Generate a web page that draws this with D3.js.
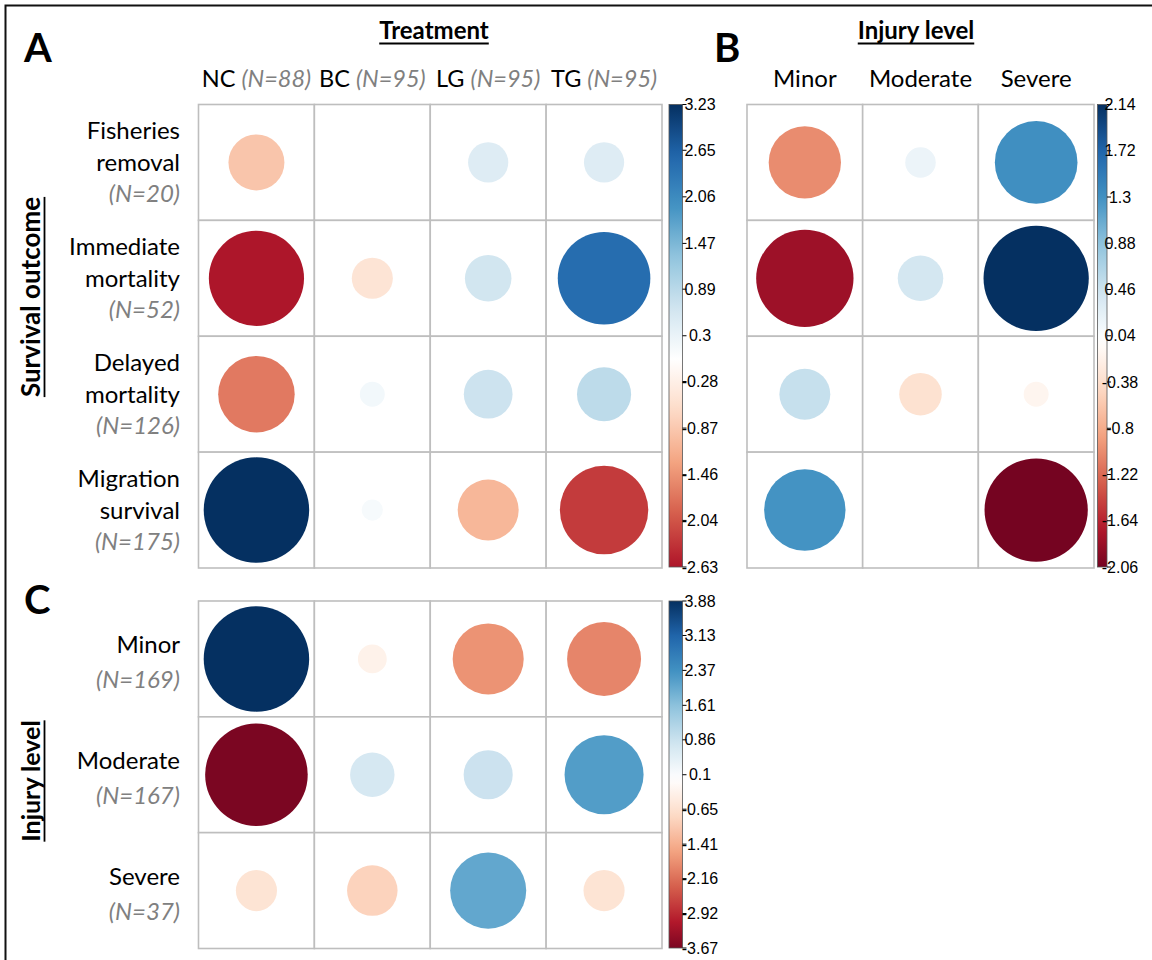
<!DOCTYPE html>
<html>
<head>
<meta charset="utf-8">
<script src="https://cdn.jsdelivr.net/npm/d3@7"></script>
<style>
  html, body { margin: 0; padding: 0; background: #fff; }
  svg { display: block; }
</style>
</head>
<body>
<svg id="fig" width="1152" height="960"></svg>
<script>
// ---- data: Pearson residuals of the contingency tables ----
const treatments = ["NC", "BC", "LG", "TG"];
const treatmentN = ["(N=88)", "(N=95)", "(N=95)", "(N=95)"];

const outcomes = ["Fisheries removal", "Immediate mortality", "Delayed mortality", "Migration survival"];
const outcomeLines = [["Fisheries", "removal"], ["Immediate", "mortality"], ["Delayed", "mortality"], ["Migration", "survival"]];
const outcomeN = ["(N=20)", "(N=52)", "(N=126)", "(N=175)"];

const injuryLevels = ["Minor", "Moderate", "Severe"];
const injuryN = ["(N=169)", "(N=167)", "(N=37)"];

// A: survival outcome x treatment
const residOutcomeTreatment = [
  [-0.91, 0.002, 0.47, 0.47],
  [-2.63, -0.49, 0.63, 2.49],
  [-1.70, 0.18, 0.69, 0.85],
  [3.23, 0.13, -1.08, -2.27]
];
// B: survival outcome x injury level
const residOutcomeInjury = [
  [-1.01, 0.18, 1.32],
  [-1.83, 0.40, 2.14],
  [0.50, -0.35, -0.12],
  [1.28, 0.002, -2.06]
];
// C: injury level x treatment
const residInjuryTreatment = [
  [3.88, -0.29, -1.76, -1.91],
  [-3.67, 0.69, 0.84, 2.18],
  [-0.59, -0.89, 2.02, -0.59]
];

// colour-key tick labels (top to bottom)
const keyTicksA = ["3.23", "2.65", "2.06", "1.47", "0.89", "0.3", "-0.28", "-0.87", "-1.46", "-2.04", "-2.63"];
const keyTicksB = ["2.14", "1.72", "1.3", "0.88", "0.46", "0.04", "-0.38", "-0.8", "-1.22", "-1.64", "-2.06"];
const keyTicksC = ["3.88", "3.13", "2.37", "1.61", "0.86", "0.1", "-0.65", "-1.41", "-2.16", "-2.92", "-3.67"];

// ---- palette (RdBu diverging, -1 .. 1) ----
const rdbu = ["#67001F", "#B2182B", "#D6604D", "#F4A582", "#FDDBC7", "#FFFFFF",
              "#D1E5F0", "#92C5DE", "#4393C3", "#2166AC", "#053061"];
const palette = d3.scaleLinear()
  .domain(d3.range(11).map(i => -1 + i * 0.2))
  .range(rdbu)
  .interpolate(d3.interpolateRgb)
  .clamp(true);

const svg = d3.select("#fig");
const FONT = "Lato, 'Open Sans', sans-serif";
const KEYFONT = "'Liberation Sans', Arial, sans-serif";
const GRID = "#BEBEBE";
const LABEL_SIZE = 24;

// outer frame
svg.append("rect")
  .attr("x", 5.5).attr("y", 5.5)
  .attr("width", 1160).attr("height", 970)
  .attr("fill", "none").attr("stroke", "#111").attr("stroke-width", 2);

function drawMatrix(values, rowKeys, colKeys, xRange, yRange) {
  const x = d3.scaleBand().domain(colKeys).range(xRange);
  const y = d3.scaleBand().domain(rowKeys).range(yRange);
  const maxAbs = d3.max(values.flat(), v => Math.abs(v));
  const r = d3.scaleSqrt().domain([0, maxAbs]).range([0, 0.455 * x.bandwidth()]);
  const g = svg.append("g");
  const cells = [];
  values.forEach((row, i) => row.forEach((v, j) => cells.push({ r: rowKeys[i], c: colKeys[j], v })));
  g.selectAll("rect.cell").data(cells).join("rect")
    .attr("class", "cell")
    .attr("x", d => x(d.c)).attr("y", d => y(d.r))
    .attr("width", x.bandwidth()).attr("height", y.bandwidth())
    .attr("fill", "#fff").attr("stroke", GRID).attr("stroke-width", 1.6);
  g.selectAll("circle").data(cells).join("circle")
    .attr("cx", d => x(d.c) + x.bandwidth() / 2)
    .attr("cy", d => y(d.r) + y.bandwidth() / 2)
    .attr("r", d => r(Math.abs(d.v)))
    .attr("fill", d => palette(d.v / maxAbs));
  return { x, y, maxAbs };
}

function drawKey(id, ticks, maxAbs, x0, width, y0, y1, labelX) {
  const vals = ticks.map(Number);
  const vmax = d3.max(vals), vmin = d3.min(vals);
  const ky = d3.scaleLinear().domain([vmin, vmax]).range([y1, y0]);
  const grad = svg.append("defs").append("linearGradient")
    .attr("id", id).attr("x1", 0).attr("y1", 1).attr("x2", 0).attr("y2", 0);
  d3.range(41).forEach(k => {
    const t = k / 40;
    const v = vmin + t * (vmax - vmin);
    grad.append("stop").attr("offset", t).attr("stop-color", palette(v / maxAbs));
  });
  svg.append("rect")
    .attr("x", x0).attr("y", y0).attr("width", width).attr("height", y1 - y0)
    .attr("fill", `url(#${id})`).attr("stroke", "#555").attr("stroke-width", 0.8);
  const g = svg.append("g");
  g.selectAll("line").data(vals).join("line")
    .attr("x1", x0 + width).attr("x2", x0 + width + 4)
    .attr("y1", d => ky(d)).attr("y2", d => ky(d))
    .attr("stroke", "#000").attr("stroke-width", 1);
  g.selectAll("text").data(ticks).join("text")
    .attr("x", labelX).attr("y", d => ky(+d) + 5.5)
    .attr("text-anchor", "middle")
    .attr("font-family", KEYFONT).attr("font-size", 16)
    .attr("fill", "#000")
    .text(d => d);
}

function underlinedTitle(text, x, y, size, rotate) {
  const g = svg.append("g").attr("transform", `translate(${x},${y})` + (rotate ? " rotate(-90)" : ""));
  const t = g.append("text")
    .attr("x", 0).attr("y", 0).attr("text-anchor", "middle")
    .attr("font-family", FONT).attr("font-weight", 700).attr("font-size", size)
    .attr("fill", "#000").text(text);
  const w = t.node().getComputedTextLength();
  g.append("line").attr("x1", -w / 2).attr("x2", w / 2)
    .attr("y1", 4.5).attr("y2", 4.5).attr("stroke", "#000").attr("stroke-width", 1.8);
}

function panelLetter(letter, x, y) {
  svg.append("text").attr("x", x).attr("y", y)
    .attr("font-family", FONT).attr("font-weight", 700).attr("font-size", 40)
    .attr("fill", "#000").text(letter);
}

// ---- Panel A ----
const A = drawMatrix(residOutcomeTreatment, outcomes, treatments, [198.5, 662], [104.5, 568]);
drawKey("keyA", keyTicksA, A.maxAbs, 669, 13.5, 104.5, 567, 700);

// ---- Panel B ----
const B = drawMatrix(residOutcomeInjury, outcomes, injuryLevels, [747, 1094], [104.5, 568]);
drawKey("keyB", keyTicksB, B.maxAbs, 1097.5, 9.5, 104.5, 567, 1120);

// ---- Panel C ----
const C = drawMatrix(residInjuryTreatment, injuryLevels, treatments, [198.5, 662], [601, 948.5]);
drawKey("keyC", keyTicksC, C.maxAbs, 669, 13.5, 601, 948, 700);

// column headers A (treatment with sample size)
treatments.forEach((t, i) => {
  const txt = svg.append("text")
    .attr("x", A.x(t) + A.x.bandwidth() / 2).attr("y", 87)
    .attr("text-anchor", "middle")
    .attr("font-family", FONT).attr("font-size", 23.5).attr("fill", "#000");
  txt.append("tspan").text(t + " ");
  txt.append("tspan").attr("font-style", "italic").attr("fill", "#808080").text(treatmentN[i]);
});

// column headers B
injuryLevels.forEach(l => {
  svg.append("text")
    .attr("x", B.x(l) + B.x.bandwidth() / 2).attr("y", 87)
    .attr("text-anchor", "middle")
    .attr("font-family", FONT).attr("font-size", LABEL_SIZE).attr("fill", "#000")
    .text(l);
});

// row labels A
outcomes.forEach((o, i) => {
  const cy = A.y(o) + A.y.bandwidth() / 2;
  const lines = outcomeLines[i];
  [lines[0], lines[1]].forEach((s, k) => {
    svg.append("text").attr("x", 180).attr("y", cy + (k - 1) * 31.5 + 8.5)
      .attr("text-anchor", "end")
      .attr("font-family", FONT).attr("font-size", LABEL_SIZE).attr("fill", "#000").text(s);
  });
  svg.append("text").attr("x", 180).attr("y", cy + 31.5 + 8.5)
    .attr("text-anchor", "end")
    .attr("font-family", FONT).attr("font-size", LABEL_SIZE).attr("font-style", "italic")
    .attr("fill", "#808080").text(outcomeN[i]);
});

// row labels C
injuryLevels.forEach((l, i) => {
  const cy = C.y(l) + C.y.bandwidth() / 2;
  svg.append("text").attr("x", 180).attr("y", cy - 14 + 8.5)
    .attr("text-anchor", "end")
    .attr("font-family", FONT).attr("font-size", LABEL_SIZE).attr("fill", "#000").text(l);
  svg.append("text").attr("x", 180).attr("y", cy + 21 + 8.5)
    .attr("text-anchor", "end")
    .attr("font-family", FONT).attr("font-size", LABEL_SIZE).attr("font-style", "italic")
    .attr("fill", "#808080").text(injuryN[i]);
});

// titles
underlinedTitle("Treatment", 434, 39, 24, false);
underlinedTitle("Injury level", 916, 39, 24, false);
underlinedTitle("Survival outcome", 40, 297, 26, true);
underlinedTitle("Injury level", 40, 781, 25, true);

panelLetter("A", 24, 62);
panelLetter("B", 714, 62);
panelLetter("C", 24, 614);
</script>
</body>
</html>
